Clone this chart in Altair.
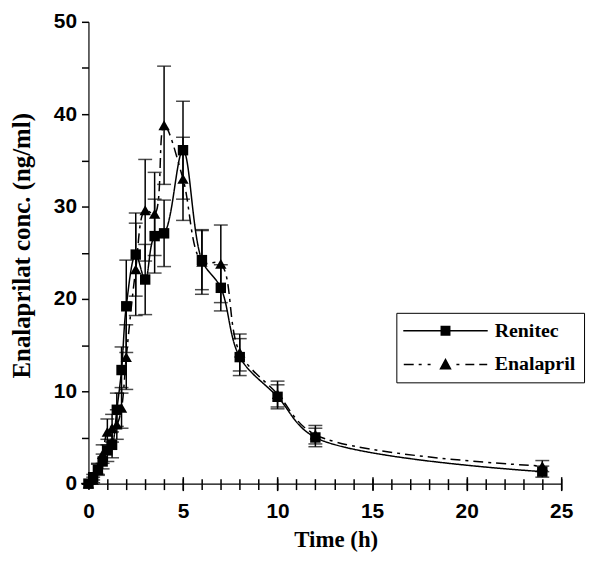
import altair as alt
import pandas as pd

# ---- data ----
time = [0, 0.25, 0.5, 0.75, 1, 1.25, 1.5, 1.75, 2, 2.5, 3, 3.5, 4, 5, 6, 7, 8, 10, 12, 24]
renitec = [0, 0.7, 1.5, 2.4, 3.6, 4.2, 8.0, 12.3, 19.2, 24.8, 22.1, 26.8, 27.1, 36.1, 24.2, 21.2, 13.7, 9.4, 5.0, 1.3]
renitec_sd = [0, 0.3, 0.6, 0.8, 1.2, 1.4, 1.8, 2.5, 5.0, 4.5, 3.8, 4.0, 3.6, 5.3, 3.2, 2.5, 2.0, 1.3, 1.0, 0.6]
enalapril = [0, 0.4, 1.6, 3.2, 5.6, 6.0, 6.4, 8.2, 13.7, 23.2, 29.6, 29.2, 38.8, 33.0, 24.0, 23.8, 14.2, 9.7, 5.3, 1.9]
enalapril_sd = [0, 0.3, 0.6, 1.0, 1.4, 1.5, 1.6, 2.2, 3.5, 5.0, 5.5, 4.5, 6.4, 4.5, 3.5, 4.2, 2.0, 1.4, 1.0, 0.6]
series_names = ["Renitec", "Enalapril"]
x_ticks = list(range(0, 26))
x_major = [5, 10, 15, 20, 25]
y_ticks = list(range(0, 51, 5))

rows = []
for name, vals, sds in [("Renitec", renitec, renitec_sd), ("Enalapril", enalapril, enalapril_sd)]:
    for t, v, s in zip(time, vals, sds):
        rows.append({"series": name, "time": t, "conc": v, "lo": v - s, "hi": v + s})
df = pd.DataFrame(rows)

xs = alt.Scale(domain=[0, 25], nice=False)
ys = alt.Scale(domain=[0, 50], nice=False)

LABEL_FONT = "Liberation Sans"
TITLE_FONT = "Liberation Serif"
GRIDOFF = dict(grid=True, gridOpacity=0, zindex=0, tickColor="black", tickWidth=1.5)

axis_x_main = alt.Axis(
    orient="bottom", tickSize=6, **GRIDOFF,
    values=x_ticks, labelExpr="datum.value % 5 == 0 ? datum.label : ''",
    labelPadding=11, labelFont=LABEL_FONT, labelFontSize=21, labelColor="black",
    labelFontWeight="bold", labelOverlap=False, labelFlush=False,
    domainColor="black", domainWidth=1.2,
    title="Time (h)", titleFont=TITLE_FONT, titleFontSize=23, titleFontWeight="bold",
    titleColor="black", titleX=249, titleY=63, titleAlign="center",
    titleBaseline="alphabetic",
)
axis_x_inner = alt.Axis(orient="bottom", values=x_ticks, labels=False, domain=False,
                        tickSize=5, offset=-5, title=None, **GRIDOFF)
axis_x_major = alt.Axis(orient="bottom", values=x_major, labels=False, domain=False,
                        tickSize=14, offset=-7, title=None, **GRIDOFF)
axis_y = alt.Axis(
    orient="left", tickSize=7, **GRIDOFF,
    values=y_ticks, labelExpr="datum.value % 10 == 0 ? datum.label : ''",
    labelPadding=5, labelFont=LABEL_FONT, labelFontSize=21, labelColor="black",
    labelFontWeight="bold", labelOverlap=False,
    domainColor="black", domainWidth=1.2,
    title="Enalaprilat conc. (ng/ml)", titleFont=TITLE_FONT, titleFontSize=25,
    titleFontWeight="bold", titleColor="black", titleX=-67, titleY=225,
    titleAngle=270, titleAlign="center", titleBaseline="middle",
)

base = alt.Chart(df)

rules = base.mark_rule(color="black", strokeWidth=1.5).encode(
    x=alt.X("time:Q", scale=xs, axis=axis_x_main),
    y=alt.Y("lo:Q", scale=ys, axis=axis_y),
    y2="hi:Q",
)
caps_hi = base.mark_tick(color="black", orient="horizontal", size=14, thickness=1.5).encode(
    x=alt.X("time:Q", scale=xs, axis=None),
    y=alt.Y("hi:Q", scale=ys, axis=None),
)
caps_lo = base.mark_tick(color="black", orient="horizontal", size=14, thickness=1.5).encode(
    x=alt.X("time:Q", scale=xs, axis=None),
    y=alt.Y("lo:Q", scale=ys, axis=None),
)
lines = base.mark_line(color="black", strokeWidth=1.5, interpolate="catmull-rom").encode(
    x=alt.X("time:Q", scale=xs, axis=axis_x_inner),
    y=alt.Y("conc:Q", scale=ys, axis=None),
    detail="series:N",
    order="time:Q",
    strokeDash=alt.StrokeDash("series:N",
                              scale=alt.Scale(domain=series_names, range=[[1, 0], [10, 5, 3, 5]]),
                              legend=None),
)
points = base.mark_point(filled=True, color="black", opacity=1).encode(
    x=alt.X("time:Q", scale=xs, axis=axis_x_major),
    y=alt.Y("conc:Q", scale=ys, axis=None),
    shape=alt.Shape("series:N",
                    scale=alt.Scale(domain=series_names, range=["square", "triangle-up"]),
                    legend=None),
    size=alt.Size("series:N", scale=alt.Scale(domain=series_names, range=[110, 130]), legend=None),
)


def seg(a, b, h=0.16):
    # thin filled bar between a and b (legend symbol units)
    return f"M{a},{-h}L{b},{-h}L{b},{h}L{a},{h}Z"


path_r = seg(-8.5, 8.5) + "M-1,-1L1,-1L1,1L-1,1Z"
path_e = (seg(-8.4, -6.4) + seg(-5.4, -4.8) + seg(-3.6, -3.0) + seg(2.2, 2.8)
          + seg(4.0, 5.8) + seg(6.8, 8.4) + "M0,-1.3L1.25,1L-1.25,1Z")

legend_layer = base.mark_point(filled=True, color="black", opacity=1).encode(
    shape=alt.Shape(
        "series:N",
        scale=alt.Scale(domain=series_names, range=[path_r, path_e]),
        legend=alt.Legend(
            title=None, orient="none", legendX=310, legendY=293,
            strokeColor="black", fillColor="white", padding=8, cornerRadius=0,
            labelFont=TITLE_FONT, labelFontSize=20, labelFontWeight="bold",
            labelColor="black", symbolSize=100, symbolOffset=31.5, labelOffset=39.5,
            rowPadding=14, symbolFillColor="black",
        ),
    ),
).transform_filter("false")

chart = alt.layer(rules, caps_hi, caps_lo, lines, points, legend_layer).resolve_axis(
    x="independent", y="independent"
).resolve_scale(shape="independent").properties(
    width=476, height=465,
    autosize=alt.AutoSizeParams(type="none"),
    padding={"left": 81, "top": 12, "right": 30, "bottom": 80},
).configure_view(stroke=None)

chart.save("out.html", embed_options={"renderer": "svg", "actions": False})
